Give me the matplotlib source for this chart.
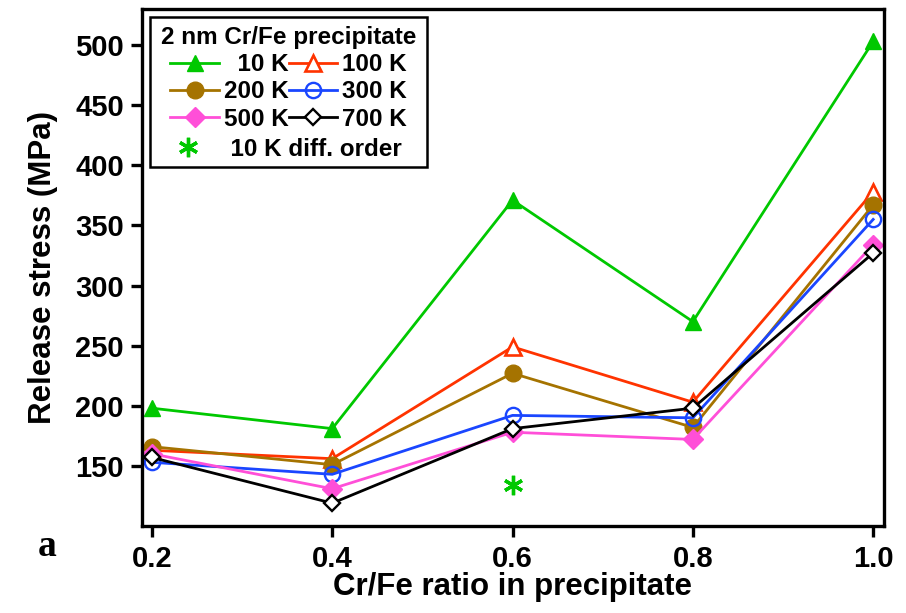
import matplotlib
matplotlib.use("Agg")
import matplotlib.pyplot as plt
from matplotlib.patches import Rectangle

plt.rcParams["font.family"] = ["Liberation Sans", "DejaVu Sans"]
plt.rcParams["font.weight"] = "bold"

# Cr/Fe ratio in precipitate
ratio = [0.2, 0.4, 0.6, 0.8, 1.0]

# release stress (MPa) for each temperature
s_10k = [198, 181, 371, 270, 503]
s_100k = [163, 156, 249, 203, 378]
s_200k = [166, 151, 227, 182, 367]
s_300k = [153, 143, 192, 190, 355]
s_500k = [160, 131, 178, 172, 334]
s_700k = [157, 119, 181, 198, 327]

# 10 K, different order
diff_x = [0.6]
diff_y = [134]

fig = plt.figure(figsize=(9.06, 6.13), dpi=100)
ax = fig.add_axes([0.1567, 0.1419, 0.8190, 0.8434])

lw = 2.0
l10, = ax.plot(ratio, s_10k, color="#00c800", lw=lw, marker="^", ms=12)
l100, = ax.plot(ratio, s_100k, color="#ff3300", lw=lw, marker="^", ms=12,
                mfc="white", mew=1.9)
l200, = ax.plot(ratio, s_200k, color="#a57300", lw=lw, marker="o", ms=12)
l300, = ax.plot(ratio, s_300k, color="#1a46ff", lw=lw, marker="o", ms=11,
                mfc="none", mew=1.7)
l500, = ax.plot(ratio, s_500k, color="#ff4fd8", lw=lw, marker="D", ms=10)
l700, = ax.plot(ratio, s_700k, color="black", lw=lw, marker="D", ms=8.5,
                mfc="white", mew=1.7)
ldiff, = ax.plot(diff_x, diff_y, ls="none", color="#00c800", marker=(6, 2, 0),
                 ms=14, mew=2.4)

ax.set_xlim(0.189, 1.012)
ax.set_ylim(100, 530)
ax.set_xticks(ratio)
ax.set_xticklabels(["0.2", "0.4", "0.6", "0.8", "1.0"])
ax.set_yticks(range(150, 501, 50))

for sp in ax.spines.values():
    sp.set_linewidth(2.4)
ax.tick_params(direction="out", length=8, width=2.4, labelsize=21, pad=5)
ax.tick_params(axis="x", pad=6)

ax.set_xlabel("Cr/Fe ratio in precipitate", fontsize=22.5, fontweight="bold",
              labelpad=-1)
ax.set_ylabel("Release stress (MPa)", fontsize=22.5, fontweight="bold",
              labelpad=12)

# legend: rows are (10 K, 100 K), (200 K, 300 K), (500 K, 700 K)
leg1 = ax.legend([l10, l200, l500, l100, l300, l700],
                 ["  10 K", "200 K", "500 K", "100 K", "300 K", "700 K"],
                 ncol=2, title="2 nm Cr/Fe precipitate", frameon=False,
                 loc="upper left", bbox_to_anchor=(0.006, 0.996),
                 fontsize=17.5, title_fontproperties={"size": 17.5, "weight": "bold"},
                 handlelength=2.0, handletextpad=0.2, columnspacing=0.0,
                 labelspacing=0.18, borderpad=0.1)
ax.add_artist(leg1)
leg2 = ax.legend([ldiff], ["  10 K diff. order"], frameon=False,
                 loc="upper left", bbox_to_anchor=(0.006, 0.784),
                 fontsize=17.5, handlelength=2.0, handletextpad=0.2,
                 borderpad=0.2)
ax.add_patch(Rectangle((0.0108, 0.694), 0.373, 0.2905, transform=ax.transAxes,
                       fill=False, ec="black", lw=1.8, zorder=5))

fig.text(0.042, 0.093, "a", fontsize=27, fontweight="bold",
         family=["Liberation Serif", "DejaVu Serif"], ha="left", va="baseline")

fig.savefig("out.png", dpi=100)
